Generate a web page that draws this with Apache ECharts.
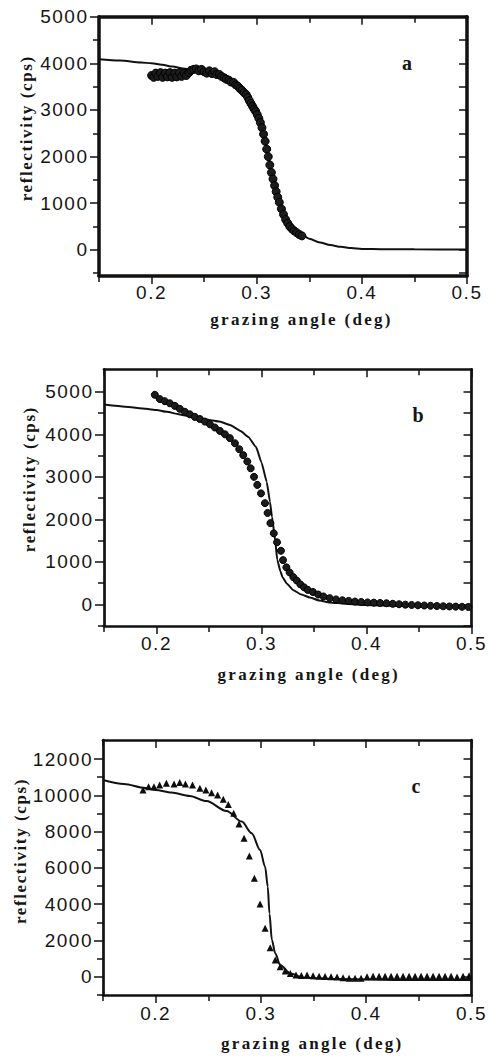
<!DOCTYPE html>
<html>
<head>
<meta charset="utf-8">
<script src="https://cdn.jsdelivr.net/npm/echarts@6/dist/echarts.min.js"></script>
<style>
  html, body { margin: 0; padding: 0; background: #fff; }
  #chart { width: 488px; height: 1057px; }
</style>
</head>
<body>
<div id="chart"></div>
<script>
// ---------- data ----------
const xTitle = 'grazing angle (deg)';
const yTitle = 'reflectivity (cps)';
const panelLetters = ['a', 'b', 'c'];

const xMajorTicks = [0.2, 0.3, 0.4, 0.5];
const xMinorTicks = [0.15, 0.25, 0.35, 0.45];
const aYMajorTicks = [0, 1000, 2000, 3000, 4000, 5000];
const aYMinorTicks = [-500, 500, 1500, 2500, 3500, 4500];
const bYMajorTicks = [0, 1000, 2000, 3000, 4000, 5000];
const bYMinorTicks = [-500, 500, 1500, 2500, 3500, 4500];
const cYMajorTicks = [0, 2000, 4000, 6000, 8000, 10000, 12000];
const cYMinorTicks = [-1000, 1000, 3000, 5000, 7000, 9000, 11000];

// panel a : measured (circles) and fit (line)
const aMeasured = [
  [0.2000,3740],[0.2020,3700],[0.2040,3790],[0.2060,3720],[0.2085,3800],[0.2105,3700],
  [0.2130,3790],[0.2150,3710],[0.2175,3800],[0.2195,3700],[0.2220,3790],[0.2240,3710],
  [0.2265,3800],[0.2285,3720],[0.2310,3790],[0.2330,3740],[0.2355,3800],[0.2375,3850],
  [0.2400,3870],[0.2425,3880],[0.2450,3840],[0.2475,3870],[0.2500,3820],[0.2525,3790],
  [0.2550,3840],[0.2575,3780],[0.2600,3820],[0.2620,3760],[0.2645,3760],[0.2665,3720],
  [0.2690,3690],[0.2710,3660],[0.2735,3640],[0.2755,3600],[0.2780,3590],[0.2800,3540],
  [0.2820,3510],[0.2840,3460],[0.2860,3420],[0.2880,3370],[0.2900,3330],[0.2915,3270],
  [0.2930,3200],[0.2945,3140],[0.2960,3080],[0.2975,3020],[0.2990,2970],[0.3005,2900],
  [0.3020,2820],[0.3035,2730],[0.3050,2620],[0.3065,2480],[0.3080,2330],[0.3095,2160],
  [0.3110,2000],[0.3125,1820],[0.3140,1660],[0.3155,1520],[0.3170,1380],[0.3185,1250],
  [0.3200,1130],[0.3215,1020],[0.3235,880],[0.3255,760],[0.3275,650],[0.3295,570],
  [0.3315,500],[0.3335,450],[0.3355,410],[0.3380,370],[0.3405,330],[0.3430,300]
];
const aFit = [
  [0.15,4090],[0.17,4060],[0.19,4020],[0.20,4000],[0.21,3970],[0.22,3930],[0.23,3890],
  [0.24,3860],[0.25,3830],[0.26,3780],[0.27,3700],[0.28,3570],[0.29,3340],[0.30,2950],
  [0.305,2600],[0.31,2140],[0.315,1600],[0.32,1130],[0.325,790],[0.33,540],[0.335,420],
  [0.34,340],[0.345,290],[0.35,240],[0.36,160],[0.37,105],[0.38,65],[0.39,38],[0.40,20],
  [0.42,14],[0.45,11],[0.50,10]
];

// panel b
const bMeasured = [
  [0.1984,4930],[0.2031,4830],[0.2079,4780],[0.2127,4730],[0.2175,4670],[0.2222,4600],
  [0.2270,4530],[0.2318,4470],[0.2365,4410],[0.2413,4360],[0.2461,4300],[0.2509,4235],
  [0.2556,4160],[0.2604,4080],[0.2652,4000],[0.2699,3910],[0.2747,3790],[0.2788,3650],
  [0.2826,3510],[0.2865,3360],[0.2897,3200],[0.2929,3000],[0.2960,2810],[0.2995,2610],
  [0.3033,2380],[0.3058,2150],[0.3085,1910],[0.3117,1670],[0.3148,1460],[0.3185,1260],
  [0.3205,1040],[0.3237,870],[0.3268,750],[0.3303,640],[0.3336,560],[0.3370,470],
  [0.3405,400],[0.3440,340],[0.3490,290],[0.3540,230],[0.3590,185],[0.3650,145],
  [0.3710,115],[0.3770,95],[0.3830,80],[0.3890,65],[0.3950,55],[0.4010,45],[0.4070,40],
  [0.4130,32],[0.4190,25],[0.4250,12],[0.4310,2],[0.4370,-8],[0.4430,-15],[0.4490,-22],
  [0.4550,-28],[0.4610,-35],[0.4670,-40],[0.4730,-46],[0.4790,-50],[0.4850,-54],
  [0.4910,-58],[0.4970,-62]
];
const bFit = [
  [0.15,4700],[0.17,4650],[0.19,4600],[0.20,4570],[0.21,4530],[0.22,4480],[0.235,4400],
  [0.25,4340],[0.26,4300],[0.27,4220],[0.28,4080],[0.2875,3940],[0.2948,3700],[0.300,3340],
  [0.305,2880],[0.308,2420],[0.310,2060],[0.313,1510],[0.315,1050],[0.318,780],[0.320,640],
  [0.324,490],[0.330,340],[0.338,230],[0.346,160],[0.355,90],[0.365,45],[0.38,12],
  [0.40,-15],[0.43,-40],[0.46,-55],[0.50,-70]
];

// panel c : measured (triangles) and fit (line)
const cMeasured = [
  [0.1880,10290],[0.1933,10475],[0.1984,10475],[0.2038,10570],[0.2102,10660],[0.2175,10620],
  [0.2229,10700],[0.2283,10620],[0.2350,10570],[0.2420,10390],[0.2477,10290],[0.2531,10140],
  [0.2589,10020],[0.2642,9780],[0.2690,9500],[0.2741,9010],[0.2792,8420],[0.2840,7630],
  [0.2890,6650],[0.2938,5430],[0.2992,4010],[0.3040,2670],[0.3088,1600],[0.3136,920],
  [0.3183,550],[0.3231,310],[0.3279,180],[0.3333,90],[0.3384,60],[0.3438,90],[0.3495,50],
  [0.3552,30],[0.3609,10],[0.3666,0],[0.3723,-20],[0.3780,-60],[0.3837,-90],[0.3894,-90],
  [0.3951,-80],[0.4008,0],[0.4065,20],[0.4122,20],[0.4179,30],[0.4236,20],[0.4293,30],
  [0.4350,20],[0.4407,30],[0.4464,20],[0.4521,30],[0.4578,20],[0.4635,30],[0.4692,20],
  [0.4749,30],[0.4806,20],[0.4863,-20],[0.4920,30],[0.4977,50]
];
const cFit = [
  [0.15,10840],[0.17,10620],[0.19,10400],[0.20,10300],[0.215,10150],[0.2324,9960],
  [0.2483,9680],[0.2674,9130],[0.2818,8550],[0.2913,7910],[0.2992,6990],[0.3040,6060],
  [0.3065,4960],[0.3081,3490],[0.3104,2020],[0.3136,1290],[0.3183,640],[0.3279,180],
  [0.3406,-55],[0.3692,-130],[0.4328,-180],[0.50,-180]
];

// ---------- layout / style ----------
const ink = '#111';
const panels = [
  { left: 99, top: 16.7, width: 368, height: 259.3, yMin: -560, yMax: 5000,
    yMajor: aYMajorTicks, yMinor: aYMinorTicks, frame: 3.5, smooth: 0.3, size: 8,
    xLabM: 7, yLabM: 10.5, xNameGap: 35, yNameGap: 64, xPad: 37, yPad: 36,
    measured: aMeasured, fit: aFit, symbol: 'circle', letterPos: [407, 63] },
  { left: 104, top: 369.3, width: 367.5, height: 256.7, yMin: -510, yMax: 5530,
    yMajor: bYMajorTicks, yMinor: bYMinorTicks, frame: 2.7, smooth: 0.15, size: 7,
    xLabM: 8, yLabM: 10.5, xNameGap: 40, yNameGap: 66, xPad: 42, yPad: 37,
    measured: bMeasured, fit: bFit, symbol: 'circle', letterPos: [418, 415] },
  { left: 103, top: 740, width: 368.5, height: 255, yMin: -1010, yMax: 13050,
    yMajor: cYMajorTicks, yMinor: cYMinorTicks, frame: 2.7, smooth: 0.3, size: 7,
    xLabM: 9, yLabM: 10, xNameGap: 40, yNameGap: 74, xPad: 50, yPad: 33,
    measured: cMeasured, fit: cFit, symbol: 'triangle', letterPos: [416, 786] }
];

const tickLine = { color: ink, width: 1.5 };
const titleStyle = (pad) => ({
  fontFamily: 'Liberation Serif', fontWeight: 'bold', fontSize: 17, color: '#151515',
  padding: [0, 0, 0, pad]
});
const labelStyle = { fontFamily: 'Liberation Sans', fontSize: 19, color: '#151515' };

const grid = [], xAxis = [], yAxis = [], series = [], graphic = [];
panels.forEach((p, gi) => {
  grid.push({ left: p.left, top: p.top, width: p.width, height: p.height });
  const xb = { gridIndex: gi, type: 'value', min: 0.15, max: 0.5, splitLine: { show: false },
    axisLabel: { show: false }, axisTick: { show: false },
    axisLine: { show: false, onZero: false } };
  const yb = { gridIndex: gi, type: 'value', min: p.yMin, max: p.yMax, splitLine: { show: false },
    axisLabel: { show: false }, axisTick: { show: false },
    axisLine: { show: false, onZero: false } };
  const frameLine = { show: true, onZero: false, lineStyle: { color: ink, width: p.frame } };

  const xi = xAxis.length;
  xAxis.push(Object.assign({}, xb, {
    position: 'bottom', axisLine: frameLine,
    axisTick: { show: true, customValues: xMajorTicks, length: 8, lineStyle: tickLine },
    axisLabel: Object.assign({ show: true, customValues: xMajorTicks, margin: p.xLabM,
      formatter: v => v.toFixed(1) }, labelStyle),
    name: xTitle, nameLocation: 'middle', nameGap: p.xNameGap, nameTextStyle: titleStyle(p.xPad)
  }));
  xAxis.push(Object.assign({}, xb, { position: 'bottom',
    axisTick: { show: true, customValues: xMinorTicks, length: 6, lineStyle: tickLine } }));
  xAxis.push(Object.assign({}, xb, { position: 'top', axisLine: frameLine,
    axisTick: { show: true, inside: true, customValues: xMajorTicks, length: 8, lineStyle: tickLine } }));
  xAxis.push(Object.assign({}, xb, { position: 'top',
    axisTick: { show: true, inside: true, customValues: xMinorTicks, length: 6, lineStyle: tickLine } }));

  const yi = yAxis.length;
  yAxis.push(Object.assign({}, yb, {
    position: 'left', axisLine: frameLine,
    axisTick: { show: true, customValues: p.yMajor, length: 9, lineStyle: tickLine },
    axisLabel: Object.assign({ show: true, customValues: p.yMajor, margin: p.yLabM,
      formatter: v => String(v) }, labelStyle),
    name: yTitle, nameLocation: 'middle', nameGap: p.yNameGap, nameRotate: 90,
    nameTextStyle: titleStyle(p.yPad)
  }));
  yAxis.push(Object.assign({}, yb, { position: 'left',
    axisTick: { show: true, customValues: p.yMinor, length: 6, lineStyle: tickLine } }));
  yAxis.push(Object.assign({}, yb, { position: 'right', axisLine: frameLine,
    axisTick: { show: true, inside: true, customValues: p.yMajor.concat(p.yMinor), length: 8,
      lineStyle: tickLine } }));

  series.push({
    type: 'line', xAxisIndex: xi, yAxisIndex: yi, data: p.fit, symbol: 'none',
    smooth: p.smooth, smoothMonotone: 'x', lineStyle: { color: ink, width: 2 }, z: 2, silent: true
  });
  series.push({
    type: 'scatter', xAxisIndex: xi, yAxisIndex: yi, data: p.measured, symbol: p.symbol,
    symbolSize: p.size,
    itemStyle: p.symbol === 'triangle'
      ? { color: '#0d0d0d', opacity: 1 }
      : { color: '#1c1c1c', borderColor: '#000', borderWidth: 1, opacity: 1 },
    z: 3, silent: true
  });

  graphic.push({
    type: 'text', x: p.letterPos[0], y: p.letterPos[1], silent: true,
    style: { text: panelLetters[gi], fill: '#151515', font: 'bold 20px "Liberation Serif"',
      align: 'center', verticalAlign: 'middle' }
  });
});

const chart = echarts.init(document.getElementById('chart'), null, { renderer: 'svg' });
chart.setOption({
  backgroundColor: '#fff',
  animation: false,
  grid, xAxis, yAxis, series, graphic
});

// widen spacing of the texts as in the scanned figure
function spaceTexts() {
  document.querySelectorAll('#chart text').forEach(t => {
    const s = (t.textContent || '').trim();
    let ls = null;
    if (/^-?[\d.]+$/.test(s)) ls = 1.5;
    else if (s === xTitle) ls = 2.3;
    else if (s === yTitle) ls = 1.6;
    if (ls !== null) {
      t.setAttribute('letter-spacing', ls);
      t.style.letterSpacing = ls + 'px';
    }
  });
}
spaceTexts();
chart.on('finished', spaceTexts);
</script>
</body>
</html>
